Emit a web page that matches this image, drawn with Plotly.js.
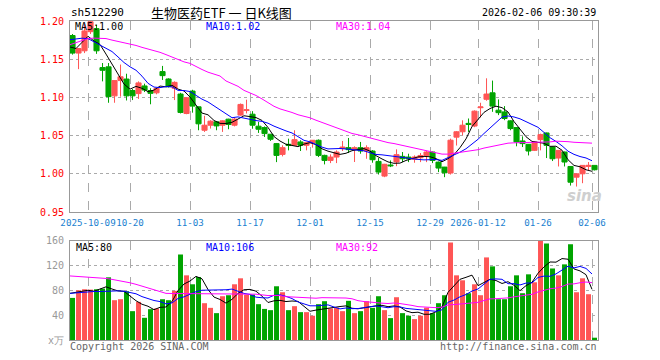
<!DOCTYPE html>
<html><head><meta charset="utf-8">
<script src="https://cdn.plot.ly/plotly-3.0.1.min.js"></script>
<style>html,body{margin:0;padding:0;background:#fff}#chart{width:660px;height:360px}</style>
</head><body><div id="chart"></div>
<script>
// ---- data (88 trading days) ----
const openP  = [1.181,1.158,1.161,1.186,1.190,1.139,1.140,1.102,1.122,1.124,
                1.109,1.105,1.115,1.109,1.106,1.1338,1.1241,1.112,1.1044,1.0789,
                1.1083,1.0877,1.057,1.0636,1.068,1.0636,1.0715,1.0636,1.0768,1.0828,
                1.078,1.0623,1.0605,1.0518,1.0395,1.0254,1.0386,1.0373,1.0417,1.0373,
                1.0404,1.0439,1.0241,1.0175,1.0219,1.033,1.0342,1.0316,1.0342,1.0298,
                1.0298,1.0162,0.997,1.0115,1.0155,1.0228,1.0219,1.019,1.021,1.0241,
                1.0285,1.0153,1.0088,1.001,1.048,1.055,1.066,1.0625,1.0865,1.0975,
                1.106,1.0833,1.081,1.0693,1.0605,1.043,1.0386,1.0307,1.0447,1.0535,
                1.0351,1.0206,1.0285,1.0096,0.9956,1.000,1.0097,1.011];
const highP  = [1.183,1.164,1.196,1.203,1.195,1.145,1.145,1.122,1.143,1.131,
                1.111,1.121,1.118,1.112,1.1125,1.1412,1.125,1.121,1.106,1.100,
                1.110,1.088,1.0759,1.070,1.069,1.070,1.072,1.074,1.092,1.097,
                1.082,1.068,1.062,1.052,1.040,1.0373,1.046,1.057,1.0439,1.041,
                1.044,1.045,1.025,1.0254,1.0307,1.043,1.0469,1.036,1.0417,1.0373,
                1.031,1.0206,1.013,1.0175,1.032,1.0285,1.0263,1.0241,1.0272,1.030,
                1.029,1.016,1.009,1.046,1.056,1.070,1.0724,1.083,1.093,1.125,
                1.122,1.0974,1.0886,1.070,1.061,1.049,1.039,1.0425,1.0526,1.054,
                1.0355,1.031,1.029,1.010,1.000,1.011,1.0154,1.011];
const lowP   = [1.156,1.137,1.158,1.183,1.157,1.121,1.093,1.093,1.101,1.096,
                1.0965,1.098,1.107,1.091,1.104,1.1228,1.113,1.0965,1.079,1.078,
                1.080,1.057,1.0548,1.0592,1.057,1.0548,1.0583,1.062,1.076,1.079,
                1.059,1.0535,1.0482,1.043,1.0153,1.0228,1.0307,1.037,1.0298,1.0307,
                1.0342,1.0219,1.0123,1.014,1.014,1.0298,1.0272,1.0154,1.0263,1.0197,
                1.0145,0.9991,0.9956,1.0088,1.010,1.0153,1.0153,1.0145,1.0153,1.0153,
                1.014,1.0022,0.9956,0.999,1.037,1.0504,1.0548,1.061,1.0737,1.0956,
                1.0811,1.0768,1.0702,1.057,1.036,1.035,1.024,1.0298,1.0307,1.0206,
                1.0167,1.0096,1.0096,0.9846,0.9833,0.9877,1.0044,1.0044];
const closeP = [1.158,1.164,1.187,1.199,1.161,1.1355,1.101,1.122,1.127,1.102,
                1.102,1.119,1.1096,1.1053,1.1118,1.1285,1.114,1.1197,1.0803,1.0996,
                1.0886,1.0654,1.0636,1.0689,1.0627,1.0693,1.0645,1.0715,1.0908,1.0838,
                1.0636,1.0583,1.0526,1.0452,1.0241,1.0342,1.0373,1.0447,1.0373,1.0408,
                1.0439,1.0241,1.0175,1.0219,1.0285,1.035,1.0316,1.0342,1.0298,1.0342,
                1.0184,1.0022,1.0125,1.0105,1.025,1.0197,1.0197,1.022,1.024,1.0285,
                1.0175,1.0075,1.0013,1.044,1.055,1.0636,1.0645,1.082,1.0875,1.1044,
                1.0886,1.080,1.0724,1.0592,1.0417,1.0395,1.0298,1.0417,1.0513,1.0373,
                1.0197,1.0307,1.0154,0.989,1.000,1.011,1.011,1.0053];
const volume = [67.7,80,81.6,81,81.6,82.7,100.8,64,65.6,78.4,
                46.4,61.3,35.7,49.6,50.7,65.6,64,79,137.6,104,
                89.6,101.3,59.2,51.7,43.2,70.4,72,89.6,99.2,73,
                73,57.6,50,48,86.4,76.8,48,54.4,44.8,44.8,
                39,57.6,62.4,50.7,52,46.4,63,43.2,46.4,62.4,
                51.7,70.4,48,35.2,68.8,43.2,39,33.6,39,52,
                43.2,59.2,72,156.8,104,96,75.2,89.6,72,132.8,
                118.4,65.6,65.6,86.4,104,75.2,105.6,92.8,159,155,
                115,104,121.6,154,76.8,99.2,73.6,3.7];

// moving-average values at the start of the window (need days before the chart)
const priceMa5Head  = [1.166,1.164,1.172,1.180];
const priceMa10Head = [1.1755,1.1765,1.1775,1.177,1.173,1.169,1.1645,1.160,1.153];
const priceMa30Head = [1.169,1.172,1.175,1.177,1.1776,1.1776,1.177,1.175,1.1735,1.172,
                       1.170,1.168,1.1655,1.1635,1.1615,1.159,1.156,1.153,1.149,1.1465,
                       1.1445,1.140,1.1365,1.133,1.1305,1.128,1.1215,1.118,1.1145];
const volMa5Head  = [75,77,79,80];
const volMa10Head = [75,76,77,77.5,78,78,78.5,79,79];
const volMa30Head = [103,102.5,101.5,101,100.5,100,99,97.5,96,94,
                     92,89.5,86.5,83.5,80.5,77.5,75,74.8,74.7,74.6,
                     74.5,74.4,74.3,74.3,74.2,74.2,74.2,74.2,74.2];

const tickIdx  = [3,10,20,30,40,50,60,68,78,87];
const tickText = ['2025-10-09','10-20','11-03','11-17','12-01','12-15','12-29','2026-01-12','01-26','02-06'];
const priceTicks = [0.95,1.00,1.05,1.10,1.15,1.20];
const volTicks = [0,40,80,120,160];
const volTickText = ['x万','40','80','120','160'];

// ---- helpers ----
const RED = '#ff5555', GREEN = '#00a400';
const SHIFT = -0.42;           // Sina draws lines / grid at the left edge of each bar
const W = 660, H = 360;
const px = x => x / W, py = y => 1 - y / H;
const idx = closeP.map((_, i) => i);
const lx = idx.map(i => i + SHIFT);
function ma(vals, n, head) {
  return vals.map((_, i) => {
    if (i < n - 1) return head[i];
    let s = 0; for (let k = i - n + 1; k <= i; k++) s += vals[k];
    return s / n;
  });
}
const mono = 'DejaVu Sans Mono, Liberation Mono, monospace';

const traces = [
  {type:'candlestick', x: idx, open: openP, high: highP, low: lowP, close: closeP,
   increasing:{line:{color:RED,width:1}, fillcolor:RED},
   decreasing:{line:{color:GREEN,width:1}, fillcolor:GREEN},
   whiskerwidth:0, xaxis:'x', yaxis:'y', hoverinfo:'skip'},
  {type:'scatter', mode:'lines', x: lx, y: ma(closeP,5,priceMa5Head), line:{color:'#000',width:1}, xaxis:'x', yaxis:'y'},
  {type:'scatter', mode:'lines', x: lx, y: ma(closeP,10,priceMa10Head), line:{color:'#0000ff',width:1}, xaxis:'x', yaxis:'y'},
  {type:'scatter', mode:'lines', x: lx, y: ma(closeP,30,priceMa30Head), line:{color:'#ff00ff',width:1}, xaxis:'x', yaxis:'y'},
  {type:'bar', x: idx, y: volume, marker:{color: idx.map(i => closeP[i] >= openP[i] ? RED : GREEN), line:{width:0}},
   xaxis:'x2', yaxis:'y2'},
  {type:'scatter', mode:'lines', x: lx, y: ma(volume,5,volMa5Head), line:{color:'#000',width:1}, xaxis:'x2', yaxis:'y2'},
  {type:'scatter', mode:'lines', x: lx, y: ma(volume,10,volMa10Head), line:{color:'#0000ff',width:1}, xaxis:'x2', yaxis:'y2'},
  {type:'scatter', mode:'lines', x: lx, y: ma(volume,30,volMa30Head), line:{color:'#ff00ff',width:1}, xaxis:'x2', yaxis:'y2'}
];

const xr = [SHIFT, closeP.length - 1 + 0.58];
const xcommon = {domain:[px(70), px(598)], range: xr, tickmode:'array', tickvals: tickIdx.map(i => i + SHIFT),
  showgrid:true, gridcolor:'#aaaaaa', griddash:'dash', gridwidth:1, zeroline:false,
  showline:true, mirror:true, linecolor:'#999999', linewidth:1, ticks:'', tickangle:0, fixedrange:true};

function note(text, x, y, anchor, color, size, family) {
  return {text, x:px(x), y:py(y), xref:'paper', yref:'paper', xanchor:anchor, yanchor:'middle',
          showarrow:false, font:{family: family || mono, size: size || 10, color}};
}

const layout = {
  width: W, height: H, margin:{l:0,r:0,t:0,b:0}, paper_bgcolor:'#fff', plot_bgcolor:'#fff',
  showlegend:false, hovermode:false, boxgap:0.15, boxgroupgap:0, bargap:0.17,
  font:{family: mono, size:10, color:'#000'},
  xaxis: Object.assign({}, xcommon, {anchor:'y', ticktext: tickText, showticklabels:true,
          tickfont:{family:mono, size:9.2, color:'#1a7fd0'}, ticklabelstandoff:2, rangeslider:{visible:false}}),
  xaxis2: Object.assign({}, xcommon, {anchor:'y2', matches:'x', showticklabels:false}),
  yaxis: {domain:[py(212), py(21)], range:[0.95,1.20], tickmode:'array', tickvals: priceTicks,
          ticktext: priceTicks.map(v => v.toFixed(2)), tickfont:{family:mono,size:10,color:'#ff0000'},
          showgrid:true, gridcolor:'#aaaaaa', griddash:'dot', zeroline:false, showline:true, mirror:true,
          linecolor:'#999999', ticks:'', ticklabelstandoff:3, fixedrange:true},
  yaxis2: {domain:[py(340), py(240.5)], range:[0,160], tickmode:'array', tickvals: volTicks, ticktext: volTickText,
          tickfont:{family:mono,size:10,color:'#999999'}, showgrid:true, gridcolor:'#aaaaaa', griddash:'dot',
          zeroline:false, showline:true, mirror:true, linecolor:'#999999', ticks:'', ticklabelstandoff:3, fixedrange:true},
  annotations: [
    note('sh512290', 69, 13, 'left', '#000', 11),
    note('生物医药ETF 一 日K线图', 149, 13, 'left', '#000', 13, 'Noto Sans CJK SC, sans-serif'),
    note('2026-02-06 09:30:39', 598, 13, 'right', '#000', 10),
    note('MA5:1.00', 73, 27, 'left', '#000'),
    note('MA10:1.02', 204, 27, 'left', '#0000ff'),
    note('MA30:1.04', 334, 27, 'left', '#ff00ff'),
    note('MA5:80', 74, 247, 'left', '#000'),
    note('MA10:106', 204, 247, 'left', '#0000ff'),
    note('MA30:92', 334, 247, 'left', '#ff00ff'),
    note('Copyright 2026 SINA.COM', 68, 346, 'left', '#666'),
    note('http://finance.sina.com.cn', 599, 346, 'right', '#666'),
    note('<b><i>sina</i></b>', 584, 196, 'center', '#cfcfcf', 15, 'DejaVu Sans, sans-serif')
  ]
};
Plotly.newPlot('chart', traces, layout, {staticPlot:true, displayModeBar:false});
</script></body></html>
